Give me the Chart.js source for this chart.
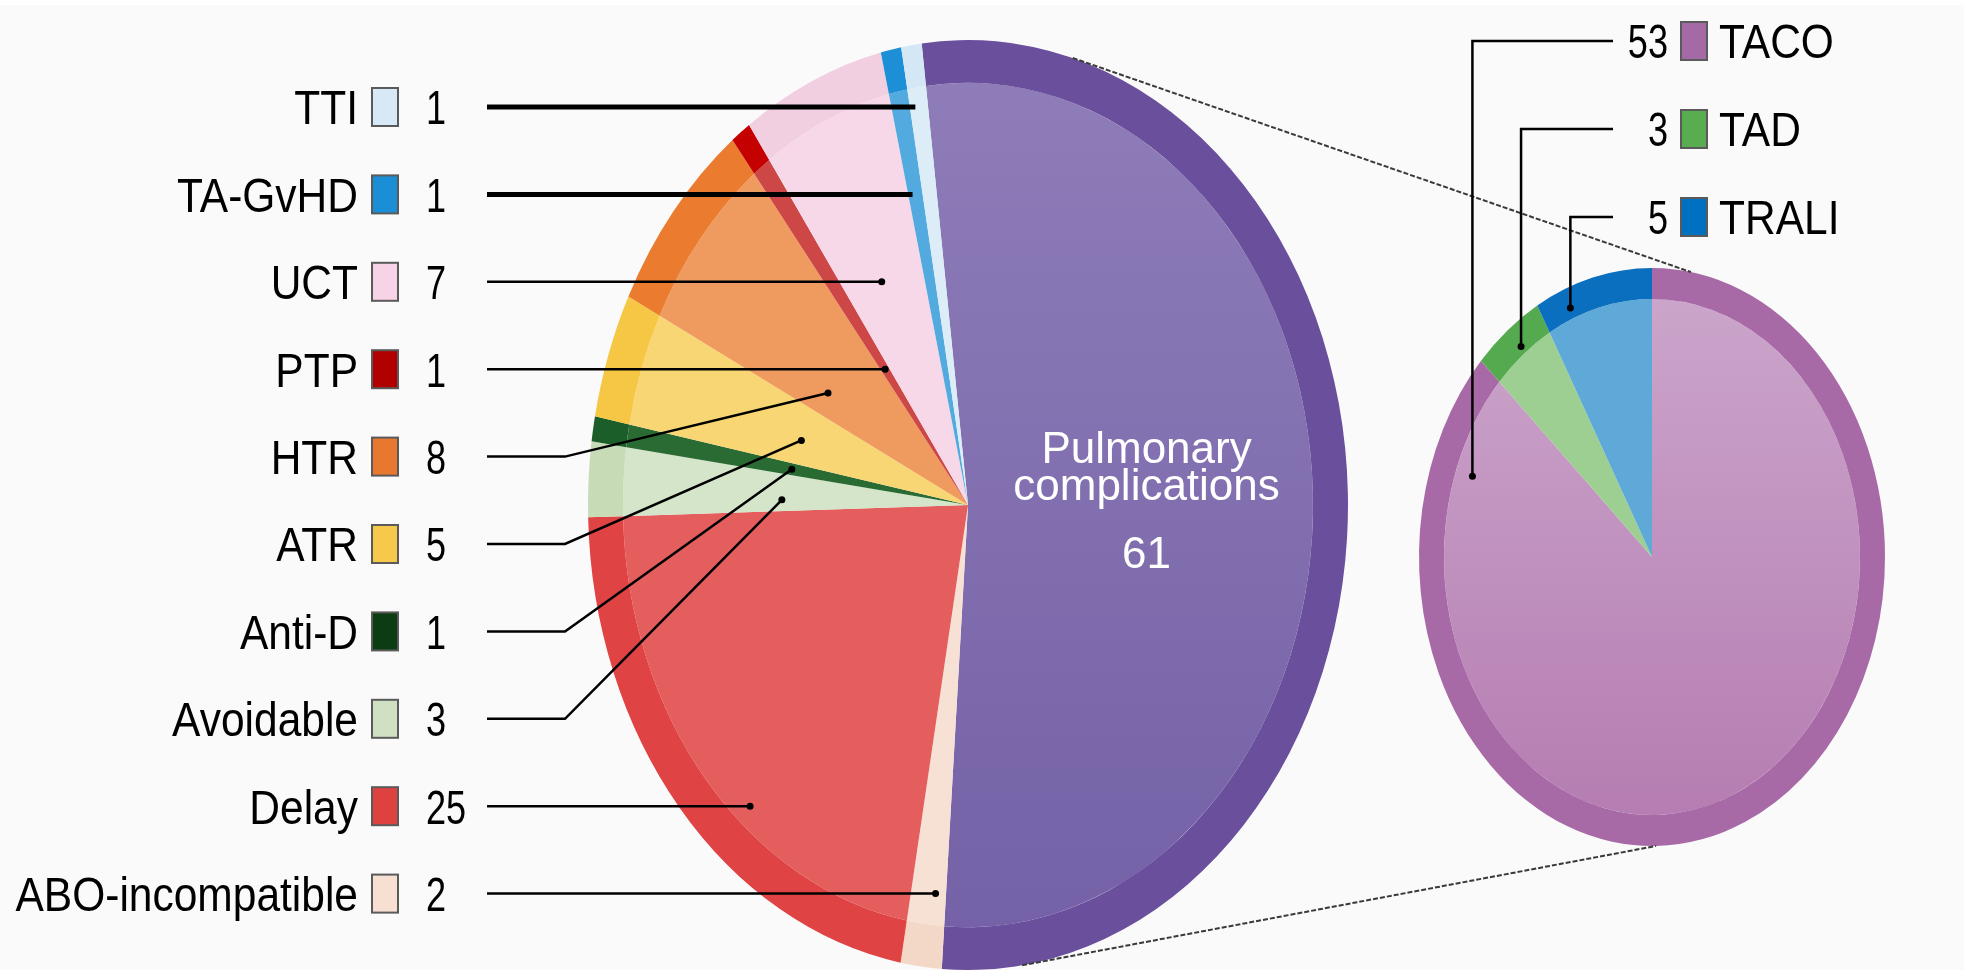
<!DOCTYPE html>
<html>
<head>
<meta charset="utf-8">
<script src="https://cdn.jsdelivr.net/npm/chart.js@4.4.1/dist/chart.umd.min.js"></script>
<style>
  html, body { margin: 0; padding: 0; background: #fafafa; }
  #wrap { position: relative; width: 1964px; height: 970px; overflow: hidden; }
  #wrap canvas { position: absolute; left: 0; top: 0; }
  #topStrip { position: absolute; left: 0; top: 0; width: 1964px; height: 5px; background: #fff; }
</style>
</head>
<body>
<div id="wrap">
  <div id="topStrip"></div>
  <canvas id="mainPie" width="1964" height="970"></canvas>
  <canvas id="detailPie" width="1964" height="970"></canvas>
</div>
<script>
// data, main pie (clockwise from the top)
const mainLabels = ['Pulmonary complications', 'ABO-incompatible', 'Delay', 'Avoidable', 'Anti-D', 'ATR', 'HTR', 'PTP', 'UCT', 'TA-GvHD', 'TTI'];
const mainValues = [61, 2, 25, 3, 1, 5, 8, 1, 7, 1, 1];
// data, breakdown of pulmonary complications
const detailLabels = ['TACO', 'TAD', 'TRALI'];
const detailValues = [53, 3, 5];

// colours
const mainOuter = ['#6a4f9c', '#f4d8c7', '#e04343', '#c6dbb6', '#1c5e2a', '#f6c744', '#ea7b2f', '#c40000', '#f2cee1', '#1d8fd6', '#d3e7f5'];
const mainInner = ['#8670b0', '#f7e1d4', '#e45e5e', '#d4e5c9', '#2a6b33', '#f8d673', '#ef9a5e', '#cd4747', '#f6d8e8', '#52aade', '#dcedf8'];
const mainKey = ['#6a4f9c', '#f7e0d2', '#df4040', '#d0e1c3', '#0c3d12', '#f7c94a', '#e8782d', '#b00000', '#f6d3e6', '#1a8fd8', '#d7e9f7'];
const detailOuter = ['#a86aa7', '#55aa4f', '#0a6fbf'];
const detailInner = ['#c298c3', '#9dcf92', '#5ea9d7'];
const detailKey = ['#a569a6', '#57ad4f', '#0070c0'];

const MAIN_SY = 465 / 380;
const DETAIL_SY = 289 / 233;
const FONT = '"Liberation Sans", Arial, sans-serif';
const TEXT_SY = 1.15;
const TEXT_SIZE = 42.5;
const DIGIT_SX = 0.85;

// where each left leader line ends inside its slice
const leftLeaders = {
  'TTI': { f: 0.3, w: 5 },
  'TA-GvHD': { f: 0.3, w: 5 },
  'UCT': { f: 0.45, w: 2.5, dot: true },
  'PTP': { f: 0.5, w: 2.5, dot: true },
  'HTR': { f: 0.26, rf: 0.44, w: 2.5, dot: true },
  'ATR': { f: 0.42, rf: 0.46, w: 2.5, dot: true },
  'Anti-D': { f: 0.5, rf: 0.47, w: 2.5, dot: true },
  'Avoidable': { f: 0.3, rf: 0.49, w: 2.5, dot: true },
  'Delay': { f: 0.4, w: 2.5, dot: true },
  'ABO-incompatible': { f: 0.3, w: 2.5, dot: true }
};
const rightLeaders = {
  'TACO': { f: 0.927, rf: 0.82 },
  'TAD': { f: 0.54, rf: 0.92 },
  'TRALI': { f: 0.25, rf: 0.93 }
};

// squash the circle into the tall ellipse of the picture
const ellipse = {
  id: 'ellipse',
  beforeDatasetsDraw(chart, args, opts) {
    const a = chart.chartArea;
    const cx = (a.left + a.right) / 2, cy = (a.top + a.bottom) / 2;
    const ctx = chart.ctx;
    ctx.save();
    ctx.translate(cx, cy);
    ctx.scale(1, opts.sy);
    ctx.translate(-cx, -cy);
  },
  afterDatasetsDraw(chart) {
    chart.ctx.restore();
  }
};

function gradientFill(top, bottom) {
  return function (c) {
    const area = c.chart.chartArea;
    if (!area) return top;
    const g = c.chart.ctx.createLinearGradient(0, area.top, 0, area.bottom);
    g.addColorStop(0, top);
    g.addColorStop(1, bottom);
    return g;
  };
}

function arcGeom(chart, i) {
  const arc = chart.getDatasetMeta(1).data[i];
  const full = chart.getDatasetMeta(0).data[i];
  return { x: arc.x, y: arc.y, start: arc.startAngle, end: arc.endAngle, r: full.outerRadius };
}

function pointInSlice(chart, sy, i, f, rf) {
  const g = arcGeom(chart, i);
  const a = g.start + f * (g.end - g.start);
  return { x: g.x + rf * g.r * Math.cos(a), y: g.y + sy * rf * g.r * Math.sin(a) };
}

// x where the ray through fraction f of the slice crosses the row
function rayAtRow(chart, sy, i, f, rowY) {
  const g = arcGeom(chart, i);
  const a = g.start + f * (g.end - g.start);
  const r = ((rowY - g.y) / sy) / Math.sin(a);
  return { x: g.x + r * Math.cos(a), y: rowY };
}

// point on the rim, angle in degrees clockwise from the top
function rim(chart, sy, deg) {
  const g = arcGeom(chart, 0);
  const a = (deg - 90) * Math.PI / 180;
  return { x: g.x + g.r * Math.cos(a), y: g.y + sy * g.r * Math.sin(a) };
}

function drawText(ctx, text, x, y, align, sx) {
  ctx.save();
  ctx.font = TEXT_SIZE + 'px ' + FONT;
  ctx.fillStyle = '#000';
  ctx.textAlign = align;
  ctx.textBaseline = 'alphabetic';
  ctx.translate(x, y + 0.716 * TEXT_SIZE * TEXT_SY / 2);
  ctx.scale(sx || 1, TEXT_SY);
  ctx.fillText(text, 0, 0);
  ctx.restore();
}

function drawKey(ctx, x, y, color) {
  ctx.save();
  ctx.fillStyle = color;
  ctx.fillRect(x, y - 19, 26, 38);
  ctx.strokeStyle = '#5a5a5a';
  ctx.lineWidth = 2;
  ctx.strokeRect(x, y - 19, 26, 38);
  ctx.restore();
}

function dot(ctx, p) {
  ctx.beginPath();
  ctx.arc(p.x, p.y, 3.5, 0, Math.PI * 2);
  ctx.fillStyle = '#000';
  ctx.fill();
}

const mainNotes = {
  id: 'mainNotes',
  afterDraw(chart) {
    const ctx = chart.ctx;
    // left legend, top row is the last slice
    for (let k = 0; k < mainLabels.length - 1; k++) {
      const i = mainLabels.length - 1 - k;
      const name = mainLabels[i];
      const rowY = 107 + k * 87.4;
      drawText(ctx, name, 358, rowY, 'right');
      drawKey(ctx, 372, rowY, mainKey[i]);
      drawText(ctx, String(mainValues[i]), 426, rowY, 'left', DIGIT_SX);

      const L = leftLeaders[name];
      const end = L.rf ? pointInSlice(chart, MAIN_SY, i, L.f, L.rf) : rayAtRow(chart, MAIN_SY, i, L.f, rowY);
      ctx.save();
      ctx.strokeStyle = '#000';
      ctx.lineWidth = L.w;
      ctx.beginPath();
      ctx.moveTo(487, rowY);
      if (L.rf) ctx.lineTo(565, rowY);
      ctx.lineTo(end.x, end.y);
      ctx.stroke();
      if (L.dot) dot(ctx, end);
      ctx.restore();
    }
    // label inside the big slice
    const c = pointInSlice(chart, MAIN_SY, 0, 0.5, 0.47);
    ctx.save();
    ctx.font = '44px ' + FONT;
    ctx.fillStyle = '#fff';
    ctx.textAlign = 'center';
    ctx.fillText('Pulmonary', c.x, c.y - 36);
    ctx.fillText('complications', c.x, c.y + 1);
    ctx.fillText(String(mainValues[0]), c.x, c.y + 69);
    ctx.restore();
  }
};

const detailNotes = {
  id: 'detailNotes',
  afterDraw(chart) {
    const ctx = chart.ctx;
    // connector lines between the two pies
    ctx.save();
    ctx.strokeStyle = '#3a3a3a';
    ctx.lineWidth = 2;
    ctx.setLineDash([5, 2]);
    const a1 = rim(mainChart, MAIN_SY, 16), b1 = rim(chart, DETAIL_SY, 9.6);
    const a2 = rim(mainChart, MAIN_SY, 171.8), b2 = rim(chart, DETAIL_SY, 179);
    ctx.beginPath();
    ctx.moveTo(a1.x, a1.y); ctx.lineTo(b1.x, b1.y);
    ctx.moveTo(a2.x, a2.y); ctx.lineTo(b2.x, b2.y);
    ctx.stroke();
    ctx.restore();

    for (let i = 0; i < detailLabels.length; i++) {
      const rowY = 41 + i * 88;
      drawText(ctx, String(detailValues[i]), 1668, rowY, 'right', DIGIT_SX);
      drawKey(ctx, 1681, rowY, detailKey[i]);
      drawText(ctx, detailLabels[i], 1719, rowY, 'left');

      const L = rightLeaders[detailLabels[i]];
      const end = pointInSlice(chart, DETAIL_SY, i, L.f, L.rf);
      ctx.save();
      ctx.strokeStyle = '#000';
      ctx.lineWidth = 2.5;
      ctx.beginPath();
      ctx.moveTo(1613, rowY);
      ctx.lineTo(end.x, rowY);
      ctx.lineTo(end.x, end.y);
      ctx.stroke();
      dot(ctx, end);
      ctx.restore();
    }
  }
};

const mainChart = new Chart(document.getElementById('mainPie'), {
  type: 'pie',
  data: {
    labels: mainLabels,
    datasets: [
      { data: mainValues, backgroundColor: mainOuter, weight: 35, borderWidth: 0, hoverOffset: 0, clip: false },
      {
        data: mainValues,
        backgroundColor: function (c) {
          if (c.dataIndex === 0) return gradientFill('#8f7eb9', '#7360a6')(c);
          return mainInner[c.dataIndex];
        },
        weight: 345, borderWidth: 0, hoverOffset: 0, clip: false
      }
    ]
  },
  options: {
    responsive: false,
    animation: false,
    events: [],
    rotation: -7,
    layout: { padding: { left: 588, right: 616, top: 125, bottom: 85 } },
    plugins: { legend: { display: false }, tooltip: { enabled: false }, ellipse: { sy: MAIN_SY } }
  },
  plugins: [ellipse, mainNotes]
});

const detailChart = new Chart(document.getElementById('detailPie'), {
  type: 'pie',
  data: {
    labels: detailLabels,
    datasets: [
      { data: detailValues, backgroundColor: detailOuter, weight: 25, borderWidth: 0, hoverOffset: 0, clip: false },
      {
        data: detailValues,
        backgroundColor: function (c) {
          if (c.dataIndex === 0) return gradientFill('#cca7cc', '#b47bb0')(c);
          return detailInner[c.dataIndex];
        },
        weight: 208, borderWidth: 0, hoverOffset: 0, clip: false
      }
    ]
  },
  options: {
    responsive: false,
    animation: false,
    events: [],
    rotation: 0,
    layout: { padding: { left: 1419, right: 79, top: 324, bottom: 180 } },
    plugins: { legend: { display: false }, tooltip: { enabled: false }, ellipse: { sy: DETAIL_SY } }
  },
  plugins: [ellipse, detailNotes]
});
</script>
</body>
</html>
